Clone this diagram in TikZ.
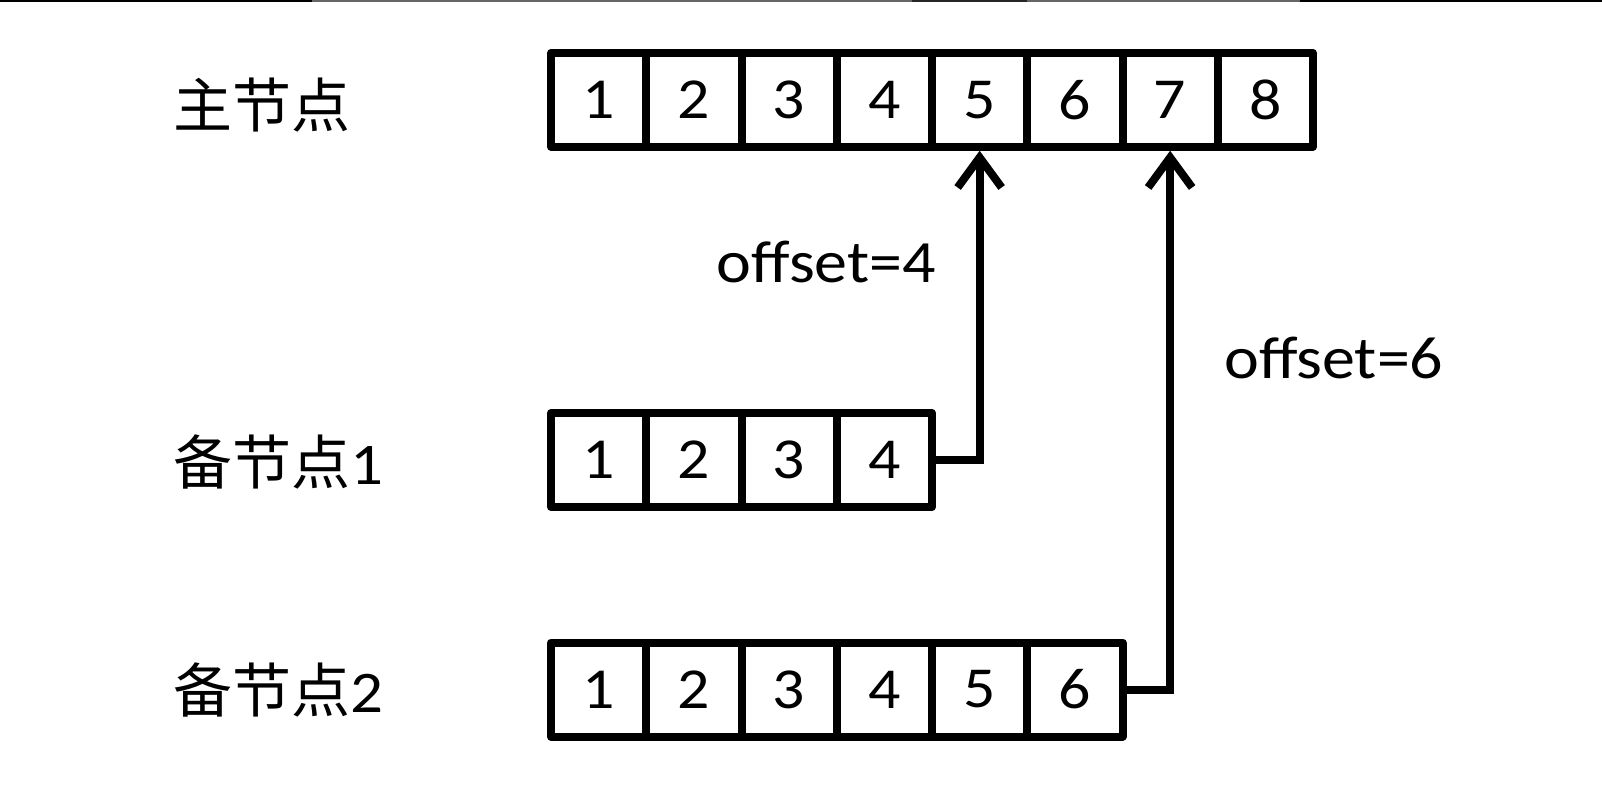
\documentclass[tikz,border=0pt]{standalone}
\usepackage{fontspec}
\setmainfont{Carlito}
\newfontfamily\cjk{Noto Sans CJK SC}
\usetikzlibrary{arrows.meta}
\tikzset{
  cell/.style={draw=black, line width=8pt, minimum width=95.25pt, minimum height=94pt, inner sep=0pt, line join=round,
     font=\fontsize{58}{60}\selectfont},
  rowlabel/.style={anchor=west, inner sep=0pt, font=\cjk\fontsize{59}{62}\selectfont},
  conn/.style={line width=8pt, -{Straight Barb[length=30pt, width=44pt]}},
  lbl/.style={inner sep=0pt, font=\fontsize{60}{62}\selectfont},
  topline/.style={line width=1.6pt},
}
\newcommand{\hwide}[1]{\scalebox{1.1}[1]{#1}}
\begin{document}
\begin{tikzpicture}[x=1pt,y=-1pt]
\useasboundingbox (0,0) rectangle (1602,786);
\fill[white] (0,0) rectangle (1602,786);
\draw[topline, black] (0,0.8) -- (312,0.8);
\draw[topline, black!60] (312,0.8) -- (912,0.8);
\draw[topline, black!85] (912,0.8) -- (1027,0.8);
\draw[topline, black!60] (1027,0.8) -- (1300,0.8);
\draw[topline, black] (1300,0.8) -- (1602,0.8);
% rows
\foreach \i in {1,...,8} {
  \node[cell] (m\i) at ({551+47.625+(\i-1)*95.25},99.75) {\hwide{\i}};
}
\foreach \i in {1,...,4} {
  \node[cell] (a\i) at ({551+47.625+(\i-1)*95.25},460) {\hwide{\i}};
}
\foreach \i in {1,...,6} {
  \node[cell] (b\i) at ({551+47.625+(\i-1)*95.25},689.5) {\hwide{\i}};
}
\node[rowlabel] (lm) at (173,105) {主节点};
\node[rowlabel] (la) at (173,462) {备节点\hwide{\rmfamily 1}};
\node[rowlabel] (lb) at (173,690) {备节点\hwide{\rmfamily 2}};
\draw[conn] (a4.east) -| (m5.south);
\draw[conn] (b6.east) -| (m7.south);
\node[lbl, anchor=east] (o4) at (936,262) {\hwide{offset=4}};
\node[lbl, anchor=west] (o6) at (1224,358) {\hwide{offset=6}};
\end{tikzpicture}
\end{document}
